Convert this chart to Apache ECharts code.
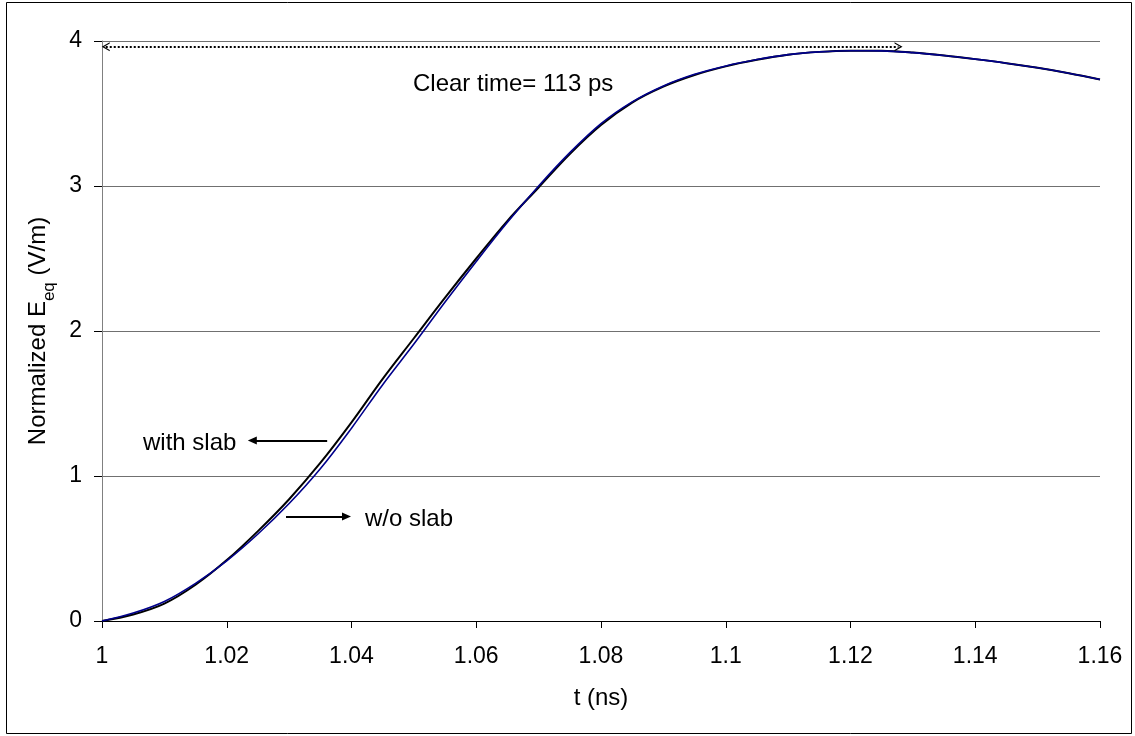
<!DOCTYPE html>
<html>
<head>
<meta charset="utf-8">
<script src="https://cdn.jsdelivr.net/npm/echarts@6/dist/echarts.min.js"></script>
<style>
html,body{margin:0;padding:0;background:#fff;}
#chart{width:1135px;height:736px;}
</style>
</head>
<body>
<div id="chart"></div>
<script>
// time (ns)
const tValues = [1.000,1.005,1.010,1.015,1.020,1.025,1.030,1.035,1.040,1.045,1.050,1.055,1.060,1.065,1.070,1.075,1.080,1.085,1.090,1.095,1.100,1.105,1.110,1.115,1.120,1.125,1.130,1.135,1.140,1.145,1.150,1.155,1.160];
// Normalized Eeq, with slab (black)
const withSlab = [0,0.045,0.12,0.25,0.42,0.62,0.84,1.09,1.37,1.67,1.95,2.23,2.50,2.76,2.99,3.22,3.42,3.575,3.685,3.765,3.825,3.87,3.905,3.925,3.933,3.932,3.92,3.90,3.875,3.847,3.815,3.778,3.735];
// Normalized Eeq, without slab (blue)
const woSlab = [0,0.055,0.135,0.26,0.415,0.60,0.81,1.05,1.33,1.63,1.91,2.20,2.48,2.75,3.00,3.23,3.43,3.58,3.69,3.77,3.828,3.872,3.906,3.925,3.933,3.932,3.92,3.90,3.875,3.847,3.815,3.778,3.735];
const xTickLabels = ['1','1.02','1.04','1.06','1.08','1.1','1.12','1.14','1.16'];
const yTickLabels = ['0','1','2','3','4'];
// annotation arrows in data coordinates
const clearArrow = {t0:1.0006, t1:1.1277, v:3.96};
const withArrow = {t0:1.0361, t1:1.0241, v:1.245};
const woArrow = {t0:1.0295, t1:1.0392, v:0.72};

const chart = echarts.init(document.getElementById('chart'), null, {renderer:'canvas'});
const font = 'Liberation Sans, Arial, sans-serif';
const chev = 'path://M0,10 L5,0 L10,10 L8.6,10 L5,3 L1.4,10 Z';

chart.setOption({
  animation:false,
  backgroundColor:'#fff',
  grid:{left:102, right:35, top:41, bottom:115},
  xAxis:{
    type:'value', min:1, max:1.16, interval:0.02,
    name:'t (ns)', nameLocation:'middle', nameGap:65,
    nameTextStyle:{fontFamily:font, fontSize:24, color:'#000'},
    axisLine:{show:true, onZero:false, lineStyle:{color:'#000', width:1}},
    axisTick:{show:true, length:7, lineStyle:{color:'#000'}},
    axisLabel:{fontFamily:font, fontSize:23, color:'#000', margin:24,
      formatter:function(v){const i=Math.round((v-1)/0.02); return xTickLabels[i]!==undefined?xTickLabels[i]:'';}},
    splitLine:{show:false}
  },
  yAxis:{
    type:'value', min:0, max:4, interval:1,
    name:'{a|Normalized E}{s|eq}{a| (V/m)}', nameLocation:'middle', nameGap:52,
    nameTextStyle:{fontFamily:font, fontSize:24, color:'#000',
      rich:{a:{fontFamily:font,fontSize:24,color:'#000'}, s:{fontFamily:font,fontSize:17,color:'#000',verticalAlign:'bottom',padding:[0,0,-8,0]}}},
    axisLine:{show:true, lineStyle:{color:'#808080', width:1}},
    axisTick:{show:true, length:8, lineStyle:{color:'#000'}},
    axisLabel:{fontFamily:font, fontSize:23, color:'#000', margin:20,
      formatter:function(v){return yTickLabels[Math.round(v)]||'';}},
    splitLine:{show:true, lineStyle:{color:'#707070', width:1}}
  },
  series:[
    {
      type:'line', name:'with slab', data:tValues.map((t,i)=>[t,withSlab[i]]),
      showSymbol:false, smooth:0.35, lineStyle:{color:'#000', width:2}, z:3,
      markLine:{
        silent:true, animation:false, label:{show:false},
        data:[
          [{coord:[clearArrow.t0,clearArrow.v], symbol:chev, symbolSize:[9,8], lineStyle:{color:'#000', width:2, type:[2,2]}},
           {coord:[clearArrow.t1,clearArrow.v], symbol:chev, symbolSize:[9,8]}],
          [{coord:[withArrow.t0,withArrow.v], symbol:'none', lineStyle:{color:'#000', width:2, type:'solid'}},
           {coord:[withArrow.t1,withArrow.v], symbol:'triangle', symbolSize:[8,9]}],
          [{coord:[woArrow.t0,woArrow.v], symbol:'none', lineStyle:{color:'#000', width:2, type:'solid'}},
           {coord:[woArrow.t1,woArrow.v], symbol:'triangle', symbolSize:[8,9]}]
        ]
      }
    },
    {
      type:'line', name:'w/o slab', data:tValues.map((t,i)=>[t,woSlab[i]]),
      showSymbol:false, smooth:0.35, lineStyle:{color:'#00008b', width:1.6}, z:4
    }
  ],
  graphic:[
    {type:'rect', silent:true, shape:{x:6.5,y:2.5,width:1125,height:731}, style:{fill:'none', stroke:'#000', lineWidth:1}},
    {type:'text', silent:true, x:413, y:84, style:{text:'Clear time= 113 ps', font:'24px '+font, fill:'#000', verticalAlign:'middle'}},
    {type:'text', silent:true, x:143, y:443, style:{text:'with slab', font:'24px '+font, fill:'#000', verticalAlign:'middle'}},
    {type:'text', silent:true, x:365, y:519, style:{text:'w/o slab', font:'24px '+font, fill:'#000', verticalAlign:'middle'}}
  ]
});
</script>
</body>
</html>
